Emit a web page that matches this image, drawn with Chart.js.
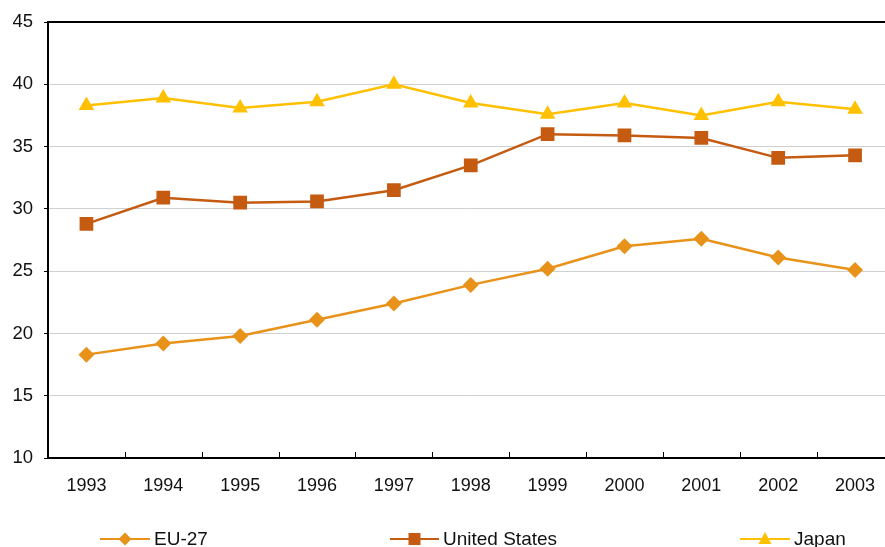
<!DOCTYPE html>
<html>
<head>
<meta charset="utf-8">
<script src="https://cdn.jsdelivr.net/npm/chart.js@4/dist/chart.umd.min.js"></script>
<style>
  html, body { margin: 0; padding: 0; background: #fff; overflow: hidden; width: 885px; height: 547px; }
  #wrap { position: relative; width: 885px; height: 547px; overflow: hidden; }
  canvas { position: absolute; left: 0; top: 0; }
  .lg { position: absolute; top: 528px; height: 22px; font-family: "Liberation Sans", Arial, sans-serif; font-size: 19px; color: #111; white-space: nowrap; display: flex; align-items: center; }
  .lg svg { margin-right: 4px; }
</style>
</head>
<body>
<div id="wrap">
  <canvas id="c" width="910" height="547" style="width:910px;height:547px"></canvas>
  <div class="lg" style="left:100px"><svg width="50" height="22"><line x1="0" y1="11" x2="50" y2="11" stroke="#E8921A" stroke-width="2"/><polygon points="25,4.5 31.5,11 25,17.5 18.5,11" fill="#E8921A"/></svg>EU-27</div>
  <div class="lg" style="left:390px"><svg width="49" height="22"><line x1="0" y1="11" x2="49" y2="11" stroke="#C55A11" stroke-width="2"/><rect x="18.5" y="5" width="12" height="12" fill="#C55A11"/></svg>United States</div>
  <div class="lg" style="left:740px"><svg width="50" height="22"><line x1="0" y1="11" x2="50" y2="11" stroke="#FFC000" stroke-width="2"/><polygon points="25,4 31.5,16 18.5,16" fill="#FFC000"/></svg>Japan</div>
</div>
<script>
const years = ["1993","1994","1995","1996","1997","1998","1999","2000","2001","2002","2003"];
const eu27 = [18.3, 19.2, 19.8, 21.1, 22.4, 23.9, 25.2, 27.0, 27.6, 26.1, 25.1];
const unitedStates = [28.8, 30.9, 30.5, 30.6, 31.5, 33.5, 36.0, 35.9, 35.7, 34.1, 34.3];
const japan = [38.3, 38.9, 38.1, 38.6, 40.0, 38.5, 37.6, 38.5, 37.5, 38.6, 38.0];
const yTicks = [10, 15, 20, 25, 30, 35, 40, 45];

const FONT = "'Liberation Sans', Arial, sans-serif";

const framePlugin = {
  id: 'frame',
  afterDatasetsDraw(chart) {
    const { ctx, chartArea, scales } = chart;
    ctx.save();
    ctx.strokeStyle = '#000';
    ctx.lineWidth = 2;
    ctx.beginPath();
    ctx.moveTo(chartArea.left - 1, chartArea.top);
    ctx.lineTo(chartArea.right, chartArea.top);
    ctx.stroke();
    ctx.lineWidth = 1;
    const xs = scales.x;
    ctx.beginPath();
    for (let i = 0; i < years.length - 1; i++) {
      const p = Math.round((xs.getPixelForValue(i) + xs.getPixelForValue(i + 1)) / 2) + 0.5;
      ctx.moveTo(p, chartArea.bottom);
      ctx.lineTo(p, chartArea.bottom - 6);
    }
    ctx.stroke();
    ctx.restore();
  }
};

new Chart(document.getElementById('c'), {
  type: 'line',
  data: {
    labels: years,
    datasets: [
      { label: 'EU-27', data: eu27, borderColor: '#E8921A', backgroundColor: '#E8921A', borderWidth: 2.5, pointStyle: 'rectRot', pointRadius: 8, pointHoverRadius: 8, pointBorderWidth: 0, tension: 0 },
      { label: 'United States', data: unitedStates, borderColor: '#C55A11', backgroundColor: '#C55A11', borderWidth: 2.5, pointStyle: 'rect', pointRadius: 9.7, pointHoverRadius: 9.7, pointBorderWidth: 0, tension: 0 },
      { label: 'Japan', data: japan, borderColor: '#FFC000', backgroundColor: '#FFC000', borderWidth: 2.5, pointStyle: 'triangle', pointRadius: 9, pointHoverRadius: 9, pointBorderWidth: 0, tension: 0 }
    ]
  },
  options: {
    responsive: false,
    animation: false,
    devicePixelRatio: 1,
    layout: { padding: { top: 22, right: 16.5, left: 0, bottom: 0 } },
    plugins: { legend: { display: false }, tooltip: { enabled: false } },
    scales: {
      x: {
        type: 'category',
        offset: true,
        grid: { display: false, drawTicks: false },
        border: { display: true, color: '#000', width: 2 },
        ticks: { color: '#111', font: { family: FONT, size: 18 }, padding: 17, maxRotation: 0, autoSkip: false },
        afterFit(s) { s.height = 89; }
      },
      y: {
        min: 10, max: 45,
        afterBuildTicks(s) { s.ticks = yTicks.map(v => ({ value: v })); },
        grid: { color: '#D0D0D0', lineWidth: 1, tickLength: 4, tickColor: '#000', drawTicks: true },
        border: { display: true, color: '#000', width: 2 },
        ticks: { color: '#111', font: { family: FONT, size: 18.5 }, padding: 11 },
        afterFit(s) { s.width = 48; }
      }
    }
  },
  plugins: [framePlugin]
});
</script>
</body>
</html>
